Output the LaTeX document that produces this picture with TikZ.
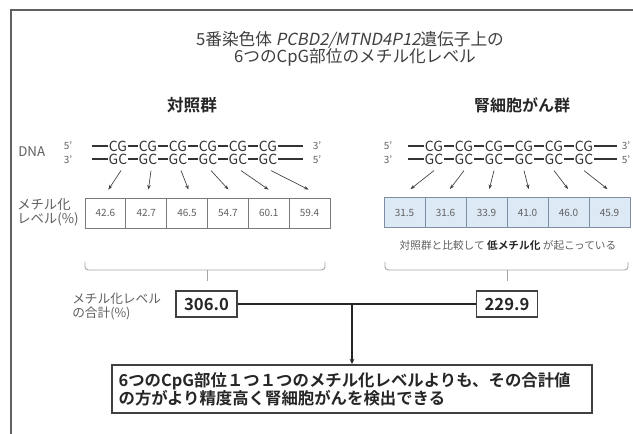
\documentclass[tikz,border=0pt]{standalone}
\usepackage{fontspec}
\setmainfont{Noto Sans CJK JP}[BoldFont={Noto Sans CJK JP Bold},AutoFakeSlant=0.2]
\usetikzlibrary{calc,arrows.meta,shadows}
\definecolor{titlegray}{HTML}{404040}
\definecolor{labgray}{HTML}{606060}
\definecolor{cellborder}{HTML}{7A7A7A}
\definecolor{bluefill}{HTML}{DDE9F4}
\definecolor{blueborder}{HTML}{7F8FA3}
\definecolor{framegray}{HTML}{606060}
\begin{document}
\begin{tikzpicture}[x=0.75pt,y=-0.75pt,
  cg/.style={inner xsep=0.6pt,inner ysep=0pt,font=\fontsize{10.5}{10.5}\selectfont,text=black!80},
  strand/.style={line width=1.1pt,black!80},
  endlab/.style={inner sep=0pt,font=\fontsize{7.5}{7.5}\selectfont,text=labgray},
  cellL/.style={draw=cellborder,line width=0.6pt,minimum width=30.6pt,minimum height=22.5pt,inner sep=0pt,font=\fontsize{7.5}{8}\selectfont,text=labgray},
  cellR/.style={cellL,fill=bluefill,draw=blueborder},
  arr/.style={line width=0.5pt,black!75,-{Stealth[length=3.5pt,width=2.6pt]}},
  bracket/.style={line width=0.7pt,black!35,rounded corners=2.5pt},
  sumbox/.style={draw=black!75,line width=1.2pt,minimum width=45.75pt,minimum height=19.5pt,inner sep=0pt,font=\fontsize{12.5}{12.5}\selectfont\bfseries,text=black!85},
  concl/.style={draw=black!75,line width=1.3pt,fill=white,minimum width=360pt,minimum height=36pt,text width=350pt,align=left,inner sep=4.5pt,font=\fontsize{12.3}{13.5}\selectfont\bfseries,text=black!85,drop shadow={shadow xshift=1pt,shadow yshift=-1pt,fill=black!40,opacity=0.6}},
  heading/.style={font=\fontsize{12.5}{12.5}\selectfont\bfseries,text=black!85,inner sep=0pt},
  small/.style={inner sep=0pt,text=labgray,align=left}
]
\useasboundingbox (0,0) rectangle (633,434);
\fill[white] (0,0) rectangle (633,434);
% frame
\draw[framegray,line width=0.9pt] (11,434) -- (11,10) -- (633,10);

% title
\node[inner sep=0pt,text=titlegray,font=\fontsize{12.5}{12.5}\selectfont] (t1) at (350,40) {5番染色体 \textit{PCBD2/MTND4P12}遺伝子上の};
\node[inner sep=0pt,text=titlegray,font=\fontsize{12.5}{12.5}\selectfont] (t2) at (355,57) {6つのCpG部位のメチル化レベル};

% group headings
\node[heading] (hL) at (192,105) {対照群};
\node[heading,font=\fontsize{12}{12}\selectfont\bfseries] (hR) at (522,105) {腎細胞がん群};

% DNA label
\node[small,anchor=west,font=\fontsize{10}{10}\selectfont] (dna) at (18,152) {DNA};

% strands
\foreach \i in {0,...,5}{
  \node[cg] (lt\i) at ({118+30*\i},146) {CG};
  \node[cg] (lb\i) at ({118+30*\i},159) {GC};
  \node[cg] (rt\i) at ({434+30*\i},146) {CG};
  \node[cg] (rb\i) at ({434+30*\i},159) {GC};
}
\coordinate (ltS) at (92,146); \coordinate (ltE) at (303,146);
\coordinate (lbS) at (92,159); \coordinate (lbE) at (303,159);
\coordinate (rtS) at (408,146); \coordinate (rtE) at (617,146);
\coordinate (rbS) at (408,159); \coordinate (rbE) at (617,159);
\foreach \s in {lt,lb,rt,rb}{
  \draw[strand] (\s S) -- (\s0.west);
  \draw[strand] (\s5.east) -- (\s E);
  \foreach \i/\j in {0/1,1/2,2/3,3/4,4/5}
    \draw[strand] (\s\i.east) -- (\s\j.west);
}
% end labels
\node[endlab] (l5a) at (68,146) {5’};
\node[endlab] (l3a) at (68,160) {3’};
\node[endlab] (l3b) at (317,146) {3’};
\node[endlab] (l5b) at (317,160) {5’};
\node[endlab] (r5a) at (388,146) {5’};
\node[endlab] (r3a) at (388,160) {3’};
\node[endlab] (r3b) at (626,146) {3’};
\node[endlab] (r5b) at (626,160) {5’};

% methylation label
\node[small,anchor=north west,font=\fontsize{10}{10.5}\selectfont] (ml) at (17,198) {メチル化\\レベル(\%)};

% cells
\foreach \v [count=\i from 0] in {42.6,42.7,46.5,54.7,60.1,59.4}
  \node[cellL] (L\i) at ({105.4+40.83*\i},213) {\v};
\foreach \v [count=\i from 0] in {31.5,31.6,33.9,41.0,46.0,45.9}
  \node[cellR] (R\i) at ({404.5+41*\i},212.5) {\v};

% arrows
\foreach \i in {0,...,5}{
  \draw[arr] ($(lb\i.south)+(3,6)$) -- ($(L\i.north)+(3-\i*0.8,-8)$);
  \draw[arr] ($(rb\i.south)+(0,6)$) -- ($(R\i.north)+(6-\i*1.6,-8)$);
}

% comment
\node[inner sep=0pt,text=labgray,font=\fontsize{8}{8}\selectfont] (cm) at (508,245) {対照群と比較して \textcolor{black!85}{\bfseries 低メチル化} が起こっている};

% brackets
\draw[bracket] (85,262) -- (85,270) -- (325,270) -- (325,262);
\draw[line width=0.7pt,black!35] (207,270) -- (207,281);
\draw[bracket] (385,262) -- (385,270) -- (628,270) -- (628,262);
\draw[line width=0.7pt,black!35] (507,270) -- (507,281);

% sums
\node[small,anchor=north west,font=\fontsize{9.5}{10}\selectfont] (sl) at (72,293) {メチル化レベル\\の合計(\%)};
\node[sumbox] (s1) at (206.5,304) {306.0};
\node[sumbox] (s2) at (507,304) {229.9};

% conclusion
\node[concl] (c) at (352,389) {6つのCpG部位１つ１つのメチル化レベルよりも、その合計値\\の方がより精度高く腎細胞がんを検出できる};

\draw[line width=1.1pt,black!85] (s1.east) -- (s2.west);
\draw[line width=1.1pt,black!85,-{Stealth[length=4pt,width=3.5pt]}] (c.north |- s1.east) -- (c.north);
\end{tikzpicture}
\end{document}
